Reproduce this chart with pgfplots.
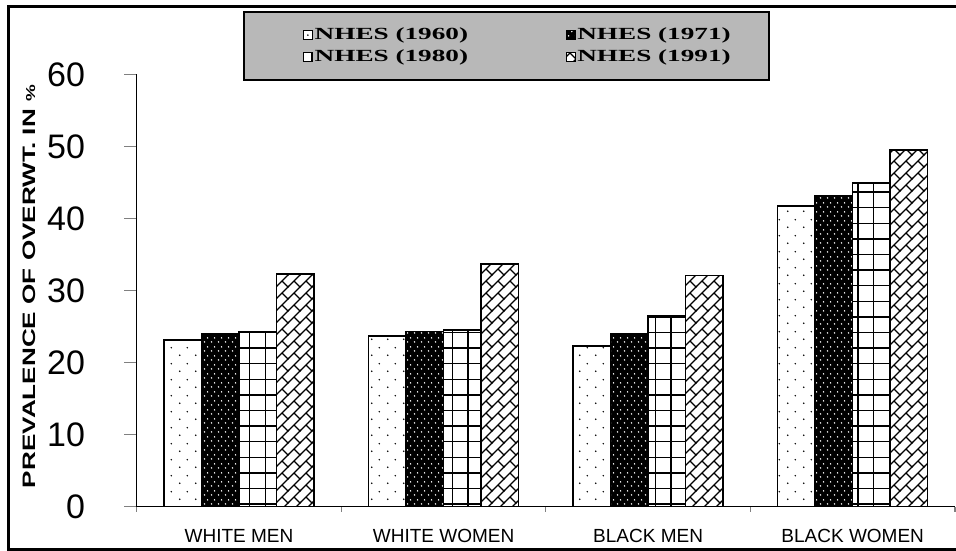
\documentclass[border=0pt]{standalone}
\usepackage{fontspec}
\setmainfont{Liberation Serif}
\setsansfont{Liberation Sans}
\usepackage{graphicx}
\usepackage{pgfplots}
\pgfplotsset{compat=1.18}
\usetikzlibrary{patterns}

\definecolor{legendgray}{RGB}{184,184,184}

% sparse black dots (NHES 1960)
\pgfdeclarepatternformonly{sparsedots}{\pgfpointorigin}{\pgfqpoint{16pt}{16pt}}{\pgfqpoint{16pt}{16pt}}{%
  \pgfpathcircle{\pgfqpoint{4pt}{4pt}}{0.9pt}%
  \pgfpathcircle{\pgfqpoint{12pt}{12pt}}{0.9pt}%
  \pgfusepath{fill}}
% dense dots, drawn in white over black (NHES 1971)
\pgfdeclarepatternformonly{densedots}{\pgfpointorigin}{\pgfqpoint{7pt}{9pt}}{\pgfqpoint{7pt}{9pt}}{%
  \pgfpathcircle{\pgfqpoint{1.75pt}{2.25pt}}{0.9pt}%
  \pgfpathcircle{\pgfqpoint{5.25pt}{6.75pt}}{0.9pt}%
  \pgfusepath{fill}}
% square grid (NHES 1980)
\pgfdeclarepatternformonly{squaregrid}{\pgfqpoint{-1pt}{-1pt}}{\pgfqpoint{16.6pt}{16.6pt}}{\pgfqpoint{15.6pt}{15.6pt}}{%
  \pgfsetlinewidth{1.4pt}%
  \pgfpathmoveto{\pgfqpoint{0pt}{-1pt}}\pgfpathlineto{\pgfqpoint{0pt}{16.6pt}}%
  \pgfpathmoveto{\pgfqpoint{-1pt}{0pt}}\pgfpathlineto{\pgfqpoint{16.6pt}{0pt}}%
  \pgfusepath{stroke}}
% diagonal brick (NHES 1991): long rising lines, short staggered cross joints
\pgfdeclarepatternformonly{diagbrick}{\pgfqpoint{-1pt}{-1pt}}{\pgfqpoint{13pt}{13pt}}{\pgfqpoint{12pt}{12pt}}{%
  \pgfsetlinewidth{1.2pt}%
  \pgfpathmoveto{\pgfqpoint{-1pt}{-1pt}}\pgfpathlineto{\pgfqpoint{13pt}{13pt}}%
  \pgfpathmoveto{\pgfqpoint{12pt}{0pt}}\pgfpathlineto{\pgfqpoint{6pt}{6pt}}%
  \pgfusepath{stroke}}

\begin{document}
\begin{tikzpicture}
\path[use as bounding box] (0pt,0pt) rectangle (956pt,551pt);
% outer frame
\draw[line width=3pt] (960pt,544.5pt) -- (8.5pt,544.5pt) -- (8.5pt,1.5pt) -- (960pt,1.5pt);
% legend panel
\draw[line width=1.5pt, fill=legendgray] (244pt,471pt) rectangle (769pt,539pt);

\begin{axis}[
  at={(136.7pt,44.3pt)}, anchor=south west,
  scale only axis, width=818.3pt, height=432.4pt,
  ybar=0pt, bar width=37.5pt,
  xmin=-0.5, xmax=3.5, ymin=0, ymax=60,
  axis x line*=bottom, axis y line*=left,
  axis line style={line width=1.2pt},
  tick align=outside,
  ytick={0,10,...,60},
  major tick length=12.5pt,
  ytick style={line width=1.2pt},
  xtick={-0.5,0.5,1.5,2.5,3.5},
  x tick label as interval,
  xticklabels={WHITE MEN, WHITE WOMEN, BLACK MEN, BLACK WOMEN},
  xtick style={line width=1.2pt, /pgfplots/major tick length=5pt},
  /pgf/number format/assume math mode=true,
  yticklabel style={font=\sffamily\fontsize{34}{34}\selectfont, anchor=east, inner sep=0pt, xshift=-39pt},
  xticklabel style={font=\sffamily\fontsize{19}{19}\selectfont, anchor=north, inner sep=0pt, yshift=-10pt},
  every axis y label/.style={at={(axis description cs:-0.1316,0.509)}, rotate=90, anchor=center},
  ylabel={\scalebox{1.45}[1]{\sffamily\bfseries\fontsize{18}{18}\selectfont PREVALENCE OF OVERWT. IN {\fontsize{13}{13}\selectfont\%}}},
  legend columns=2,
  legend style={at={(axis description cs:0.4655,1.0655)}, anchor=center,
    draw=none, fill=none, inner sep=0pt,
    font=\bfseries\fontsize{17}{17}\selectfont,
    nodes={inner sep=1.5pt, text height=12pt, text depth=3pt},
    row sep=4pt,
    /tikz/every even column/.append style={column sep=96pt}},
  legend image code/.code={\draw[#1, line width=1.2pt] (0pt,-4.5pt) rectangle (9pt,4.5pt);},
  every axis plot/.append style={draw=black, line width=1.5pt},
]
\addplot[fill=white, postaction={pattern=sparsedots}]
  coordinates {(0,23.1) (1,23.7) (2,22.3) (3,41.7)};
\addlegendentry{\scalebox{1.6}[1]{NHES (1960)}}
\addplot[fill=black, postaction={pattern=densedots, pattern color=white}]
  coordinates {(0,24.0) (1,24.3) (2,24.0) (3,43.1)};
\addlegendentry{\scalebox{1.6}[1]{NHES (1971)}}
\addplot[fill=white, postaction={pattern=squaregrid}]
  coordinates {(0,24.3) (1,24.5) (2,26.5) (3,44.9)};
\addlegendentry{\scalebox{1.6}[1]{NHES (1980)}}
\addplot[fill=white, postaction={pattern=diagbrick}]
  coordinates {(0,32.3) (1,33.7) (2,32.1) (3,49.5)};
\addlegendentry{\scalebox{1.6}[1]{NHES (1991)}}
\end{axis}
\end{tikzpicture}
\end{document}
